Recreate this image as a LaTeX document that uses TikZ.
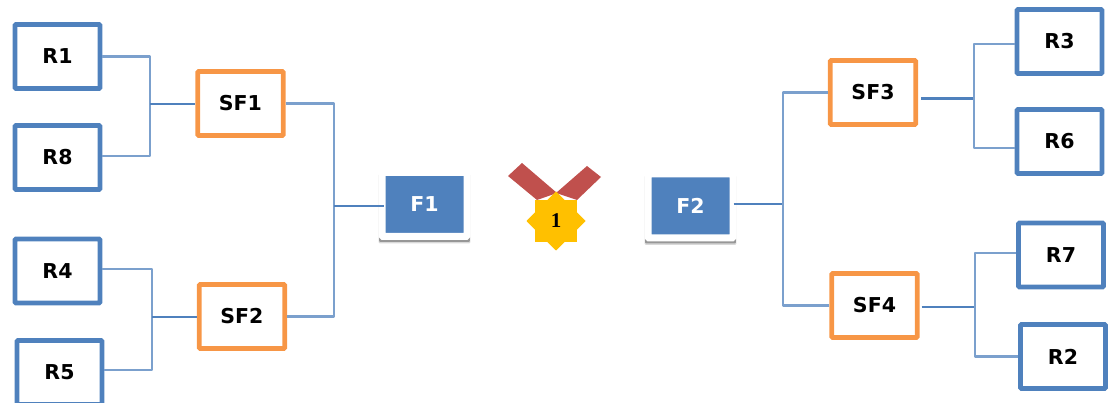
\documentclass[tikz,border=0pt]{standalone}
\usepackage{fontspec}
\setmainfont{DejaVu Sans}
\newfontfamily\medalfont{Liberation Serif}
\usetikzlibrary{shapes.geometric,shadows}
\definecolor{roundblue}{HTML}{4F81BD}
\definecolor{semiorange}{HTML}{F79646}
\definecolor{linkblue}{HTML}{7BA0CD}
\definecolor{ribbonred}{HTML}{C0504D}
\definecolor{medalgold}{HTML}{FFC000}
\begin{document}
\begin{tikzpicture}[x=1pt,y=-1pt,
round node/.style={rectangle,draw=roundblue,line width=4.8pt,rounded corners=1pt,minimum width=85pt,minimum height=64pt,inner sep=0pt},
semi node/.style={rectangle,draw=semiorange,line width=4.8pt,rounded corners=1pt,minimum width=85.5pt,minimum height=64pt,inner sep=0pt},
final node/.style={rectangle,draw=white,fill=roundblue,text=white,line width=7pt,rounded corners=1pt,minimum width=85pt,minimum height=64pt,inner sep=0pt,
general shadow={shadow scale=1.08,shadow yshift=-4pt,opacity=.15,fill=black},
general shadow={shadow scale=1.07,shadow yshift=-3pt,opacity=.3,fill=black}},
link/.style={draw=linkblue,line width=2.1pt,line join=round},
stem/.style={draw=roundblue,line width=2.1pt}]
\useasboundingbox (0,0) rectangle (1108,403);
\begin{scope}[every node/.style={font=\fontsize{20.5}{24}\bfseries}]
\node[round node] (r1) at (57.5,56.5) {R1};
\node[round node] (r8) at (57.5,157.5) {R8};
\node[round node] (r4) at (57.5,271) {R4};
\node[round node] (r5) at (59.5,372.5) {R5};
\node[semi node] (sf1) at (240.5,103.5) {SF1};
\node[semi node] (sf2) at (242,316.5) {SF2};
\node[final node] (f1) at (424.5,204.5) {F1};
\node[final node] (f2) at (690.5,206) {F2};
\node[semi node] (sf3) at (873,92.5) {SF3};
\node[semi node] (sf4) at (874.5,305.5) {SF4};
\node[round node] (r3) at (1059.5,41.5) {R3};
\node[round node] (r6) at (1059.5,141.5) {R6};
\node[round node] (r7) at (1061,255) {R7};
\node[round node] (r2) at (1063,356.5) {R2};
\end{scope}
% medal
\fill[ribbonred] (508,176) -- (522,163) -- (557,193) -- (537,200) -- cycle;
\fill[ribbonred] (601,177) -- (587,166) -- (556,193) -- (577,200) -- cycle;
\node[star,star points=8,star point ratio=1.3,minimum size=59pt,inner sep=0pt,fill=medalgold,font=\fontsize{21}{24}\bfseries\medalfont] (medal) at (556,221) {1};
\begin{scope}
\coordinate (a1) at (150,104);
\coordinate (a2) at (152,317);
\coordinate (a3) at (334,206);
\coordinate (b1) at (783,204);
\coordinate (b2) at (974,98.5);
\coordinate (b3) at (975,307);
\draw[link] (r1.east) -| (a1);
\draw[link] ([yshift=1.5pt]r8.east) -| (a1);
\draw[link] ([yshift=2pt]r4.east) -| (a2);
\draw[link] ([yshift=2.5pt]r5.east) -| (a2);
\draw[stem] (a1) -- (a1 -| sf1.west);
\draw[stem] (a2) -- (a2 -| sf2.west);
\draw[link] (sf1.east) -| (a3);
\draw[link] (sf2.east) -| (a3);
\draw[stem] (a3) -- ([xshift=5pt]f1.west |- a3);
\draw[stem] ([xshift=-3pt]f2.east |- b1) -- (b1);
\draw[link] (sf3.west) -| (b1);
\draw[link] (sf4.west) -| (b1);
\draw[stem] ([xshift=3pt]sf3.east |- b2) -- (b2);
\draw[stem] ([xshift=2pt]sf4.east |- b3) -- (b3);
\draw[link] ([yshift=-2.5pt]r3.west) -| (b2);
\draw[link] ([yshift=-6.5pt]r6.west) -| (b2);
\draw[link] ([yshift=2pt]r7.west) -| (b3);
\draw[link] (r2.west) -| (b3);
\end{scope}
\end{tikzpicture}
\end{document}
